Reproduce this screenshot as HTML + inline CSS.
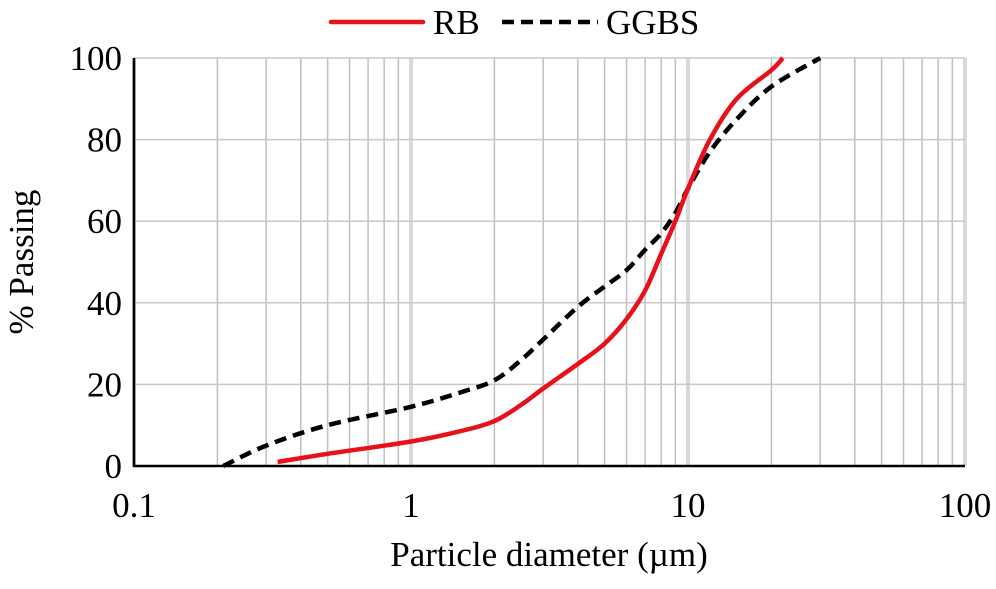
<!DOCTYPE html>
<html><head><meta charset="utf-8"><style>
body{margin:0;background:#fff;}
svg{font-family:"Liberation Serif",serif;}
</style></head><body>
<svg id="chart" width="996" height="584"></svg>
<script>
const xTicks=[0.1,1,10,100];
const xTickLabels=["0.1","1","10","100"];
const yTicks=[0,20,40,60,80,100];
const rbX=[0.33,0.5,1,1.5,2,2.5,3,4,5,6,7,8,9,10,12,15,20,22];
const rbY=[1,3,6,8.5,11,15,19,25,30,36,43,52,60,68,80,90,97,100];
const ggX=[0.21,0.3,0.5,1,1.5,2,2.5,3,4,5,6,7,8,9,10,12,15,20,30];
const ggY=[0,5,10,14.5,18,21,26,31,39,44,48,53,57,62,68,77,85,93,100];
const NS="http://www.w3.org/2000/svg";
const svg=document.getElementById('chart');
const X0=134,DEC=277,Y0=466,YH=408;
const xs=v=>X0+Math.log10(v/0.1)*DEC;
const ys=v=>Y0-v/100*YH;
function mk(t,a,p){const e=document.createElementNS(NS,t);for(const k in a)e.setAttribute(k,a[k]);(p||svg).appendChild(e);return e;}
const grid=mk('g',{});


for(let d=0.1;d<100;d*=10){for(let m=1;m<=10;m++){const v=d*m;const x=xs(v);const dec=(m===1||m===10);mk('line',{x1:x,x2:x,y1:ys(100),y2:Y0,stroke:dec?'#d9d9d9':'#c0c0c0','stroke-width':dec?4:1.5},grid);}}
yTicks.forEach(t=>{if(t>0)mk('line',{x1:X0,x2:xs(100),y1:ys(t),y2:ys(t),stroke:'#c8c8c8','stroke-width':1.5},grid);
 const l=mk('text',{x:X0-12,y:ys(t)+12,'text-anchor':'end','font-size':35});l.textContent=t;
 
 });
xTicks.forEach((t,i)=>{const l=mk('text',{x:xs(t),y:517,'text-anchor':'middle','font-size':35});l.textContent=xTickLabels[i];
 
 });
const ax=mk('path',{d:`M${X0} ${ys(100)}V${Y0}H${xs(100)}`,fill:'none',stroke:'#000','stroke-width':2.5});


function line(xa,ya,col,dash,name){
 const P=xa.map((v,i)=>[xs(v),ys(ya[i])]);
 let d='M'+P[0][0].toFixed(1)+' '+P[0][1].toFixed(1);
 for(let i=0;i<P.length-1;i++){const p0=P[Math.max(i-1,0)],p1=P[i],p2=P[i+1],p3=P[Math.min(i+2,P.length-1)];
  const c1=[p1[0]+(p2[0]-p0[0])/6,p1[1]+(p2[1]-p0[1])/6],c2=[p2[0]-(p3[0]-p1[0])/6,p2[1]-(p3[1]-p1[1])/6];
  d+=`C${c1[0].toFixed(1)} ${c1[1].toFixed(1)} ${c2[0].toFixed(1)} ${c2[1].toFixed(1)} ${p2[0].toFixed(1)} ${p2[1].toFixed(1)}`;}
 const p=mk('path',{d:d,fill:'none',stroke:col,'stroke-width':4.5,'stroke-linejoin':'round','stroke-dasharray':dash||'none'});
 
 }
line(ggX,ggY,'#000','12,7','ggbs-line');
line(rbX,rbY,'#e8101a',null,'rb-line');
const yt=mk('text',{x:0,y:0,transform:'translate(33,262) rotate(-90)','text-anchor':'middle','font-size':35});yt.textContent='% Passing';


const xt=mk('text',{x:549,y:566,'text-anchor':'middle','font-size':35});xt.textContent='Particle diameter (µm)';


const lg=mk('g',{});


mk('line',{x1:331,x2:423,y1:22,y2:22,stroke:'#e8101a','stroke-width':4.5,'stroke-linecap':'round'},lg);
const t1=mk('text',{x:433,y:34,'font-size':35},lg);t1.textContent='RB';
mk('line',{x1:502,x2:598,y1:22,y2:22,stroke:'#000','stroke-width':4.5,'stroke-dasharray':'12,7'},lg);
const t2=mk('text',{x:606,y:34,'font-size':35},lg);t2.textContent='GGBS';
</script>
</body></html>
